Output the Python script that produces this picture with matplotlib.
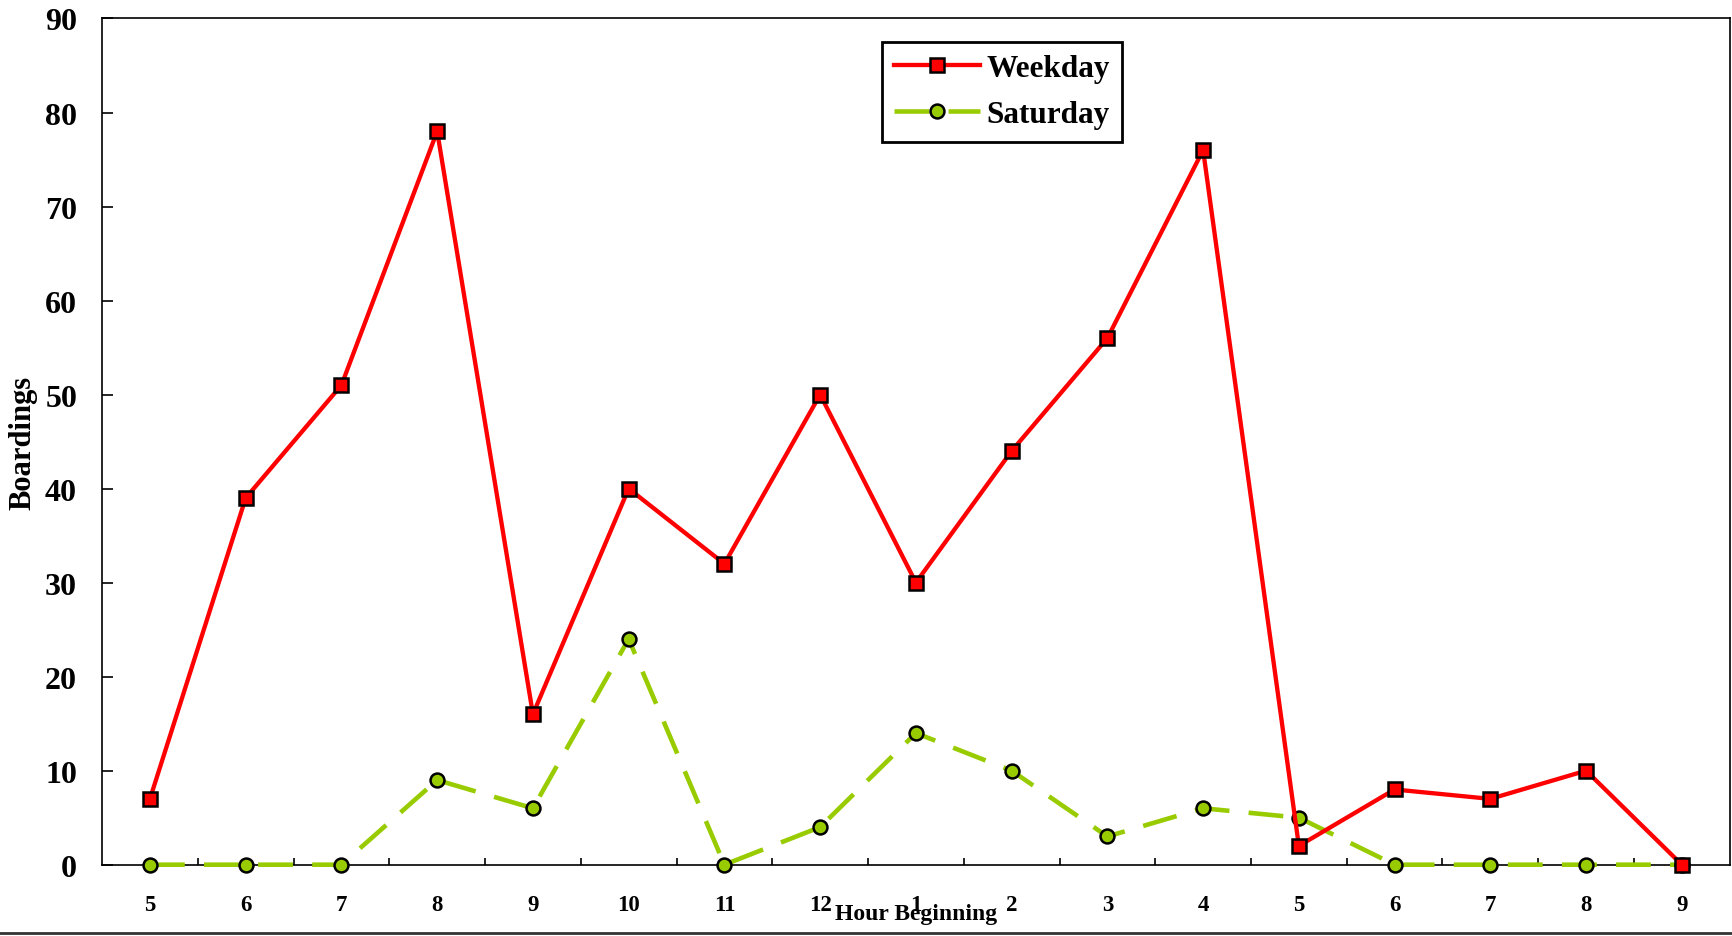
import matplotlib
matplotlib.use("Agg")
import matplotlib.pyplot as plt
from matplotlib.lines import Line2D

hours = ["5", "6", "7", "8", "9", "10", "11", "12", "1", "2", "3", "4", "5", "6", "7", "8", "9"]
weekday = [7, 39, 51, 78, 16, 40, 32, 50, 30, 44, 56, 76, 2, 8, 7, 10, 0]
saturday = [0, 0, 0, 9, 6, 24, 0, 4, 14, 10, 3, 6, 5, 0, 0, 0, 0]

plt.rcParams['font.family'] = ['Liberation Serif', 'DejaVu Serif']
plt.rcParams['font.weight'] = 'bold'

fig = plt.figure(figsize=(17.33, 9.37), dpi=100)
ax = fig.add_axes([0.0589, 0.0761, 0.9392, 0.9031])

x = list(range(len(hours)))
ax.plot(x, saturday, color='#99CC00', lw=3.3, dashes=(7.6, 4.2), marker='o', ms=10,
        mfc='#99CC00', mec='black', mew=1.8, label='Saturday', zorder=3, clip_on=False)
ax.plot(x, weekday, color='#FF0000', lw=3.1, marker='s', ms=10,
        mfc='#FF0000', mec='black', mew=1.8, label='Weekday', zorder=4, clip_on=False)

ax.set_xlim(-0.5, len(hours) - 0.5)
ax.set_ylim(0, 90)
ax.set_yticks(range(0, 91, 10))
ax.set_xticks(x)
ax.set_xticklabels(hours)
ax.set_xticks([i + 0.5 for i in range(len(hours) - 1)], minor=True)

for s in ax.spines.values():
    s.set_linewidth(1.2)
    s.set_color('black')

ax.tick_params(axis='y', direction='in', length=8, width=1.2, pad=18, labelsize=23)
ax.tick_params(axis='x', which='major', length=0, pad=21, labelsize=16.5)
ax.tick_params(axis='x', which='minor', direction='in', length=5, width=1.2)
for lab in ax.get_xticklabels() + ax.get_yticklabels():
    lab.set_fontweight('bold')

ax.set_xlabel('Hour Beginning', fontsize=17, fontweight='bold')
ax.xaxis.set_label_coords(0.5, -0.058)
ax.xaxis.label.set_verticalalignment('center')
ax.set_ylabel('Boardings', fontsize=22, fontweight='bold')
ax.yaxis.set_label_coords(-0.0485, 0.5)
ax.yaxis.label.set_verticalalignment('center')

h, l = ax.get_legend_handles_labels()
leg = ax.legend(h[::-1], l[::-1], loc='upper left', bbox_to_anchor=(0.479, 0.9726),
                borderaxespad=0, fancybox=False, framealpha=1,
                edgecolor='black', handlelength=2.75, handletextpad=0.2,
                borderpad=0.4, labelspacing=0.55, prop={'weight': 'bold', 'size': 22.5})
leg.get_frame().set_linewidth(2)

fig.add_artist(Line2D([0, 1], [0.003, 0.003], transform=fig.transFigure,
                      color='#333333', lw=2))

fig.savefig('out.png', dpi=100)
